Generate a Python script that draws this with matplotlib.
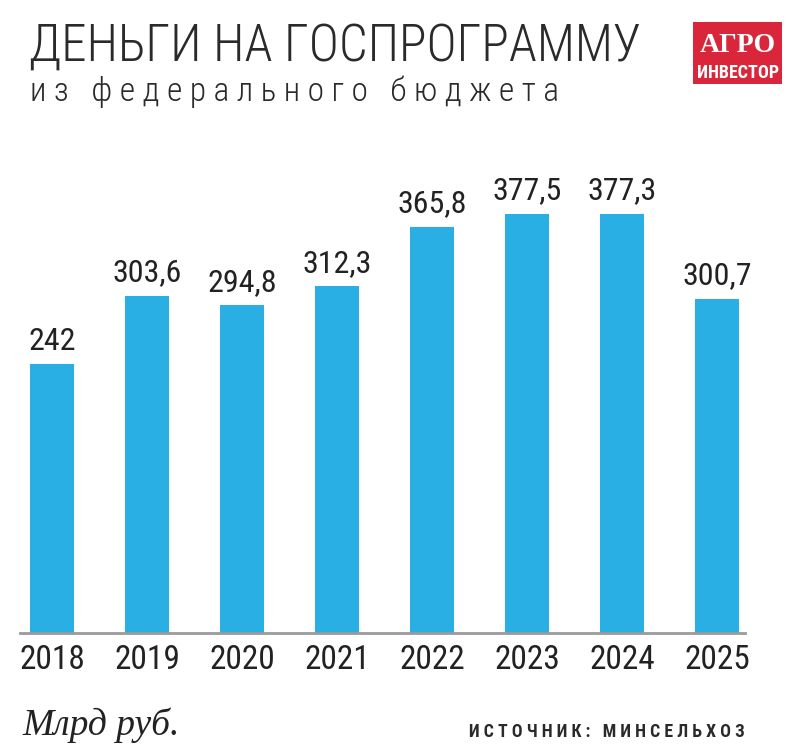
import matplotlib
matplotlib.use("Agg")
import matplotlib.pyplot as plt
from matplotlib.patches import Rectangle

years = ["2018", "2019", "2020", "2021", "2022", "2023", "2024", "2025"]
values = [242, 303.6, 294.8, 312.3, 365.8, 377.5, 377.3, 300.7]
labels = ["242", "303,6", "294,8", "312,3", "365,8", "377,5", "377,3", "300,7"]

W, H = 800, 755
fig = plt.figure(figsize=(W / 100, H / 100), dpi=100)
fig.patch.set_facecolor("white")

cond = ["Roboto Condensed", "Roboto", "DejaVu Sans"]
serif = ["Liberation Serif", "DejaVu Serif"]

def fx(px):
    return px / W

def fy(py):
    return 1 - py / H

# axes in pixel coordinates
left, right, bottom, top = 20, 745, 633, 150
ax = fig.add_axes([fx(left), fy(bottom), fx(right - left), (bottom - top) / H])
x = list(range(len(years)))
ax.bar(x, values, width=0.46, color="#2AAFE5", zorder=2)
ax.set_xlim((left - 52) / 95, (right - 52) / 95)
ax.set_ylim(0, (bottom - top) / 1.111)
for s in ["top", "right", "left"]:
    ax.spines[s].set_visible(False)
ax.spines["bottom"].set_color("#9a9a9a")
ax.spines["bottom"].set_linewidth(2)
ax.set_yticks([])
ax.set_xticks(x)
ax.set_xticklabels(years, family=cond, fontsize=24, color="#222222")
ax.tick_params(axis="x", length=0, pad=8)
for xi, v, lab in zip(x, values, labels):
    ax.annotate(lab, (xi, v), xytext=(0, 6), textcoords="offset points",
                ha="center", va="bottom", family=cond, fontsize=23, color="#222222")

# titles
fig.text(fx(29), fy(61), "ДЕНЬГИ НА ГОСПРОГРАММУ", family=cond, fontsize=36.7,
         weight="light", color="#2a2a2a", ha="left", va="baseline")
sub = "из федерального бюджета"
sub_sp = " ".join(list(sub))
fig.text(fx(30), fy(101), sub_sp, family=cond, fontsize=24, weight="light",
         color="#2a2a2a", ha="left", va="baseline")

# logo
fig.patches.append(Rectangle((fx(693), fy(84)), fx(89), (84 - 22) / H,
                             transform=fig.transFigure, facecolor="#D9263A",
                             edgecolor="none"))
fig.text(fx(737.5), fy(52), "АГРО", family=serif,
         fontsize=20, weight="bold", color="white", ha="center", va="baseline")
fig.text(fx(737.5), fy(78), "ИНВЕСТОР", family=cond, fontsize=13, weight="bold",
         color="white", ha="center", va="baseline")

# footer
fig.text(fx(22), fy(735), "Млрд руб.", family=serif,
         style="italic", fontsize=27, color="#222222", ha="left", va="baseline")
src = "ИСТОЧНИК: МИНСЕЛЬХОЗ"
src_sp = " ".join(list(src))
fig.text(fx(745), fy(737), src_sp, family=cond, fontsize=12.8, weight="bold",
         color="#2a2a2a", ha="right", va="baseline")

fig.savefig("out.png", dpi=100, facecolor="white")
